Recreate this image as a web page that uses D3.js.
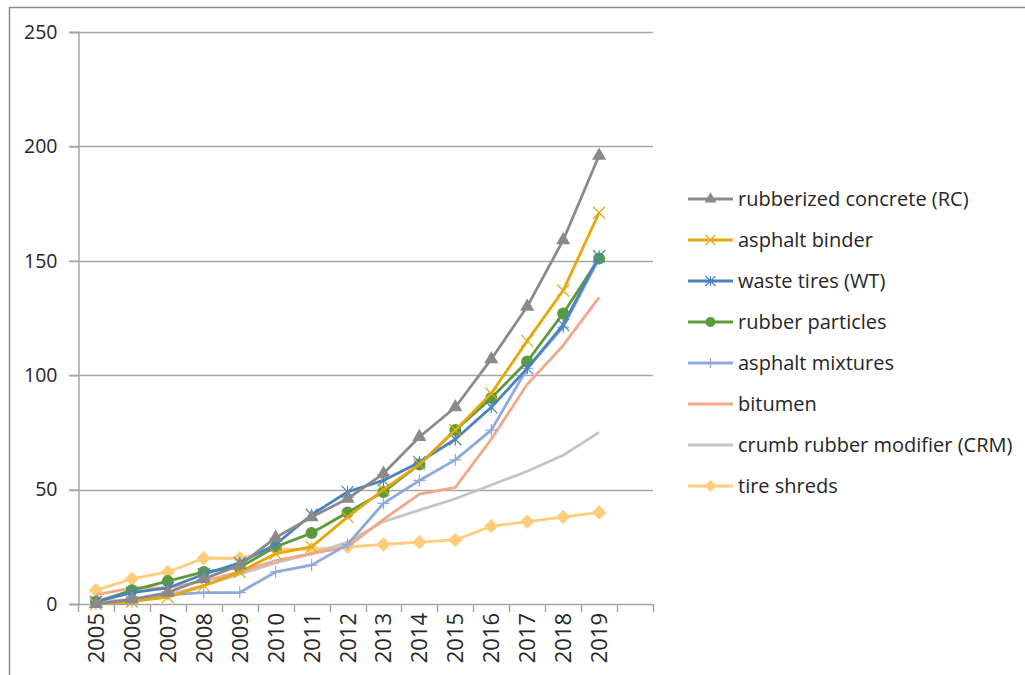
<!DOCTYPE html>
<html>
<head>
<meta charset="utf-8">
<script src="https://cdn.jsdelivr.net/npm/d3@7"></script>
<style>
  html, body { margin: 0; padding: 0; background: #fff; }
  svg { display: block; font-family: "Open Sans", "Liberation Sans", sans-serif; }
</style>
</head>
<body>
<svg id="chart" width="1025" height="675"></svg>
<script>
// Publication counts per year for each research topic
const years = ["2005","2006","2007","2008","2009","2010","2011","2012","2013","2014","2015","2016","2017","2018","2019"];
const yTicks = [0, 50, 100, 150, 200, 250];

const rubberizedConcrete = [0, 2, 5, 11, 17, 29, 38, 46, 57, 73, 86, 107, 130, 159, 196];
const asphaltBinder      = [0, 1, 3, 8, 14, 22, 25, 38, 50, 61, 76, 92, 115, 137, 171];
const wasteTires         = [1, 5, 7, 13, 18, 26, 39, 49, 54, 62, 72, 86, 103, 122, 152];
const rubberParticles    = [1, 6, 10, 14, 16, 25, 31, 40, 49, 61, 76, 90, 106, 127, 151];
const asphaltMixtures    = [0, 1, 4, 5, 5, 14, 17, 26, 44, 54, 63, 76, 103, 121, 151];
const bitumen            = [4, 7, 7, 10, 14, 19, 22, 25, 37, 48, 51, 72, 96, 113, 134];
const crumbRubber        = [1, 2, 4, 8, 13, 18, 22, 27, 36, 41, 46, 52, 58, 65, 75];
const tireShreds         = [6, 11, 14, 20, 20, 24, 24, 25, 26, 27, 28, 34, 36, 38, 40];

const series = [
  { name: "rubberized concrete (RC)",       values: rubberizedConcrete, color: "#8a8a8a", marker: "triangle" },
  { name: "asphalt binder",                 values: asphaltBinder,      color: "#e5a70a", marker: "x" },
  { name: "waste tires (WT)",               values: wasteTires,         color: "#4a82c0", marker: "asterisk" },
  { name: "rubber particles",               values: rubberParticles,    color: "#5b9b3b", marker: "circle" },
  { name: "asphalt mixtures",               values: asphaltMixtures,    color: "#8ea9dc", marker: "plus" },
  { name: "bitumen",                        values: bitumen,            color: "#f3a789", marker: null },
  { name: "crumb rubber modifier (CRM)",    values: crumbRubber,        color: "#c4c4c4", marker: null },
  { name: "tire shreds",                    values: tireShreds,         color: "#ffcc7a", marker: "diamond" }
];

const svg = d3.select("#chart");

// outer frame (top and left edges visible)
svg.append("line").attr("x1", 9).attr("y1", 7.5).attr("x2", 1025).attr("y2", 7.5)
  .attr("stroke", "#8c8c8c").attr("stroke-width", 1.5);
svg.append("line").attr("x1", 9.5).attr("y1", 7).attr("x2", 9.5).attr("y2", 675)
  .attr("stroke", "#8c8c8c").attr("stroke-width", 1.5);

const plot = { left: 78, right: 653, top: 32, bottom: 604 };

// one spare slot after the last year keeps the plot wider than the data
const slots = years.concat([""]);
const x = d3.scaleBand().domain(slots).range([plot.left, plot.right]).paddingInner(0).paddingOuter(0);
const y = d3.scaleLinear().domain([0, 250]).range([plot.bottom, plot.top]);
const cx = yr => x(yr) + x.bandwidth() / 2;

// horizontal gridlines
svg.append("g").selectAll("line").data(yTicks.filter(t => t > 0)).join("line")
  .attr("x1", plot.left - 9).attr("x2", plot.right)
  .attr("y1", d => Math.round(y(d)) + 0.5).attr("y2", d => Math.round(y(d)) + 0.5)
  .attr("stroke", "#a6a6a6").attr("stroke-width", 1.5);

// y axis
const yAxis = svg.append("g").attr("transform", `translate(${plot.left + 0.5},0)`)
  .call(d3.axisLeft(y).tickValues(yTicks).tickSize(9).tickPadding(12));
yAxis.select(".domain").attr("stroke", "#a6a6a6").attr("stroke-width", 1.5);
yAxis.selectAll(".tick line").attr("stroke", "#a6a6a6").attr("stroke-width", 1.5);
yAxis.selectAll(".tick text").attr("font-size", 19.5).attr("fill", "#262626")
  .attr("font-family", "Open Sans, sans-serif");

// x axis: ticks at category boundaries, labels rotated
const xg = svg.append("g");
xg.append("line").attr("x1", plot.left - 9).attr("x2", plot.right)
  .attr("y1", plot.bottom + 0.5).attr("y2", plot.bottom + 0.5)
  .attr("stroke", "#a6a6a6").attr("stroke-width", 1.5);
const bounds = slots.map(s => x(s)).concat([plot.right]);
xg.selectAll("line.tk").data(bounds).join("line").attr("class", "tk")
  .attr("x1", d => Math.round(d) + 0.5).attr("x2", d => Math.round(d) + 0.5)
  .attr("y1", plot.bottom).attr("y2", plot.bottom + 8)
  .attr("stroke", "#a6a6a6").attr("stroke-width", 1.5);
xg.selectAll("text").data(years).join("text")
  .attr("transform", d => `translate(${cx(d) + 8},${plot.bottom + 9}) rotate(-90)`)
  .attr("text-anchor", "end")
  .attr("font-size", 22).attr("fill", "#262626")
  .text(d => d);

// marker shapes
function drawMarker(g, type, color, px, py, s) {
  if (type === "triangle") {
    g.append("path").attr("d", d3.symbol(d3.symbolTriangle, s * s * 0.6)())
      .attr("transform", `translate(${px},${py})`).attr("fill", color);
  } else if (type === "circle") {
    g.append("circle").attr("cx", px).attr("cy", py).attr("r", s * 0.5).attr("fill", color);
  } else if (type === "diamond") {
    const h = s * 0.6;
    g.append("path").attr("d", `M${px},${py - h}L${px + h},${py}L${px},${py + h}L${px - h},${py}Z`).attr("fill", color);
  } else if (type === "x") {
    const h = s * 0.5;
    g.append("path").attr("d", `M${px - h},${py - h}L${px + h},${py + h}M${px - h},${py + h}L${px + h},${py - h}`)
      .attr("stroke", color).attr("stroke-width", 1.2).attr("fill", "none");
  } else if (type === "asterisk") {
    const h = s * 0.5;
    g.append("path").attr("d", `M${px - h},${py - h}L${px + h},${py + h}M${px - h},${py + h}L${px + h},${py - h}M${px},${py - h}L${px},${py + h}`)
      .attr("stroke", color).attr("stroke-width", 1.2).attr("fill", "none");
  } else if (type === "plus") {
    const h = s * 0.5;
    g.append("path").attr("d", `M${px - h},${py}L${px + h},${py}M${px},${py - h}L${px},${py + h}`)
      .attr("stroke", color).attr("stroke-width", 1.2).attr("fill", "none");
  }
}

const line = d3.line().x((d, i) => cx(years[i])).y(d => y(d));

// draw back-to-front so the first legend entry ends on top
const drawOrder = series.slice().reverse();
drawOrder.forEach(s => {
  const g = svg.append("g");
  g.append("path").datum(s.values).attr("d", line)
    .attr("fill", "none").attr("stroke", s.color).attr("stroke-width", 2.8)
    .attr("stroke-linejoin", "round");
  if (s.marker) {
    s.values.forEach((v, i) => drawMarker(g, s.marker, s.color, cx(years[i]), y(v), 12));
  }
});

// legend
const legend = svg.append("g").attr("transform", "translate(688,199)");
series.forEach((s, i) => {
  const g = legend.append("g").attr("transform", `translate(0,${i * 41})`);
  g.append("line").attr("x1", 0).attr("x2", 45).attr("y1", 0).attr("y2", 0)
    .attr("stroke", s.color).attr("stroke-width", 2.8);
  if (s.marker) drawMarker(g, s.marker, s.color, 22.5, 0, 10);
  g.append("text").attr("x", 50).attr("y", 0).attr("dy", "0.35em")
    .attr("font-size", 20).attr("fill", "#262626").text(s.name);
});
</script>
</body>
</html>
